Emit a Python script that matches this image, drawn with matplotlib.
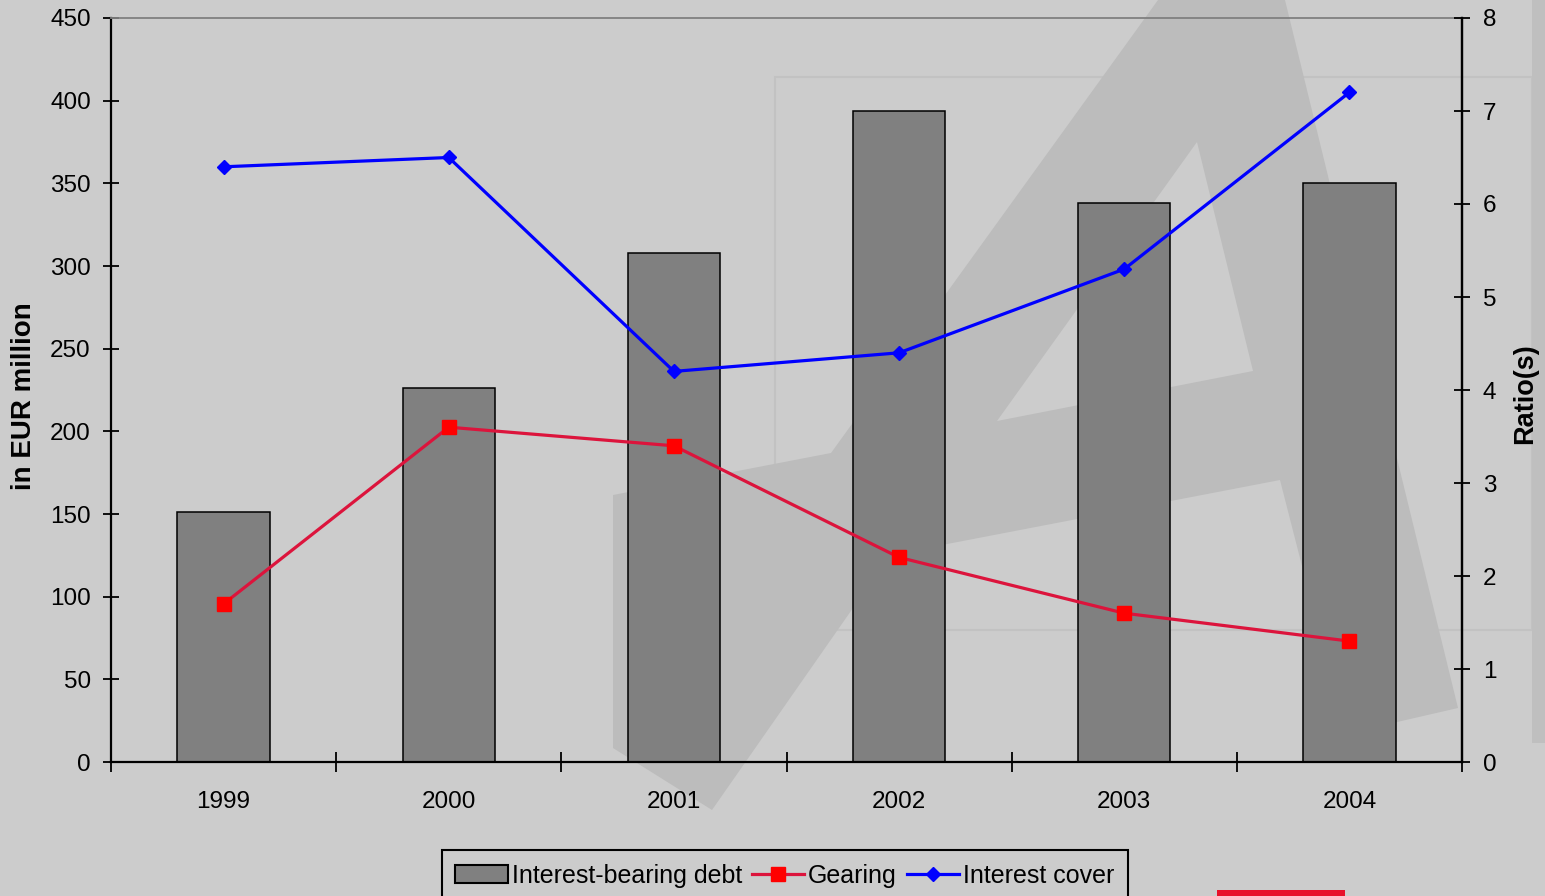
import numpy as np
import matplotlib
matplotlib.use("Agg")
import matplotlib.pyplot as plt
from matplotlib.patches import Polygon, Rectangle
from matplotlib.lines import Line2D

plt.rcParams['font.family'] = ['Liberation Sans', 'DejaVu Sans']

years = ['1999', '2000', '2001', '2002', '2003', '2004']
debt = [151, 226, 308, 394, 338, 350]          # EUR million (left axis)
gearing = [1.7, 3.6, 3.4, 2.2, 1.6, 1.3]        # ratio (right axis)
cover = [6.4, 6.5, 4.2, 4.4, 5.3, 7.2]          # ratio (right axis)

W, H = 1545, 896
bg = '#cccccc'
fig = plt.figure(figsize=(W / 100, H / 100), dpi=100, facecolor=bg)

def px(pts):
    # pixel coords (top-left origin) -> figure fraction
    return [(x / W, 1 - y / H) for x, y in pts]

# background watermark (slide decoration)
frame = Rectangle((775 / W, 1 - 630 / H), (1532 - 775) / W, (630 - 77) / H,
                  transform=fig.transFigure, fill=False, ec='#c2c2c2', lw=1.5, zorder=-3)
fig.patches.append(frame)
fig.patches.append(Rectangle((1532 / W, 1 - 743 / H), 13 / W, 743 / H, transform=fig.transFigure,
                             fc='#bfbfbf', ec='none', zorder=-3))
logo = [(613, 495), (831, 453), (1158, 0), (1285, 0), (1458, 708), (1345, 734),
        (1280, 480), (890, 555), (712, 810), (613, 748)]
fig.patches.append(Polygon(px(logo), closed=True, transform=fig.transFigure,
                           fc='#bcbcbc', ec='none', zorder=-2))
hole = [(1197, 142), (997, 421), (1253, 371)]
fig.patches.append(Polygon(px(hole), closed=True, transform=fig.transFigure,
                           fc=bg, ec='none', zorder=-1))
fig.patches.append(Rectangle((1217 / W, 0), 128 / W, 6 / H, transform=fig.transFigure,
                             fc='#e8102a', ec='none', zorder=-1))

ax = fig.add_axes([111 / W, 1 - 762 / H, (1462 - 111) / W, (762 - 18) / H])
ax.set_facecolor('none')
x = np.arange(len(years))
ax.bar(x, debt, width=0.41, color='#808080', edgecolor='black', linewidth=1.1, zorder=2)
ax.set_xlim(-0.5, len(years) - 0.5)
ax.set_ylim(0, 450)
ax.set_yticks(np.arange(0, 451, 50))
ax.set_xticks(x)
ax.set_xticklabels(years)
ax.set_xticks(np.arange(-0.5, len(years), 1), minor=True)
ax.tick_params(axis='x', which='major', length=0, pad=21, labelsize=17.5)
ax.tick_params(axis='x', which='minor', direction='inout', length=14, width=1.3)
ax.tick_params(axis='y', direction='inout', length=12, width=1.3, pad=8.5, labelsize=17.5)
ax.set_ylabel('in EUR million', fontsize=20, fontweight='bold')
ax.yaxis.set_label_coords(-0.0545, 0.492)

for s in ['left', 'bottom', 'right']:
    ax.spines[s].set_linewidth(1.6)
ax.spines['top'].set_color('#808080')
ax.spines['top'].set_linewidth(1.3)

ax2 = ax.twinx()
ax2.plot(x, gearing, color='#dc143c', lw=2.3, marker='s', ms=10,
         mfc='#ff0000', mec='#ff0000', zorder=3)
ax2.plot(x, cover, color='#0000ff', lw=2.3, marker='D', ms=7.5,
         mfc='#0000ff', mec='#0000ff', zorder=3)
ax2.set_ylim(0, 8)
ax2.set_yticks(range(0, 9))
ax2.tick_params(axis='y', direction='inout', length=12, width=1.3, pad=9, labelsize=17.5)
ax2.set_ylabel('Ratio(s)', fontsize=19.5, fontweight='bold')
ax2.yaxis.set_label_coords(1.037, 0.495)
for s in ax2.spines.values():
    s.set_visible(False)
ax2.spines['right'].set_visible(True)
ax2.spines['right'].set_linewidth(1.6)

handles = [Rectangle((0, 0), 1, 1, fc='#808080', ec='black', lw=1.5),
           Line2D([], [], color='#dc143c', lw=2.3, marker='s', ms=10, mfc='#ff0000', mec='#ff0000'),
           Line2D([], [], color='#0000ff', lw=2.3, marker='D', ms=7.5, mfc='#0000ff', mec='#0000ff')]
labels = ['Interest-bearing debt', 'Gearing', 'Interest cover']
leg = fig.legend(handles, labels, loc='upper center', bbox_to_anchor=(785 / W, 1 - 850 / H),
                 ncol=3, fontsize=18, frameon=True, fancybox=False, edgecolor='black',
                 facecolor=bg, framealpha=1, handlelength=2.1, handletextpad=0.15,
                 columnspacing=0.4, borderpad=0.55, borderaxespad=0)
leg.get_frame().set_linewidth(1.5)

fig.savefig('out.png', dpi=100, facecolor=bg)
